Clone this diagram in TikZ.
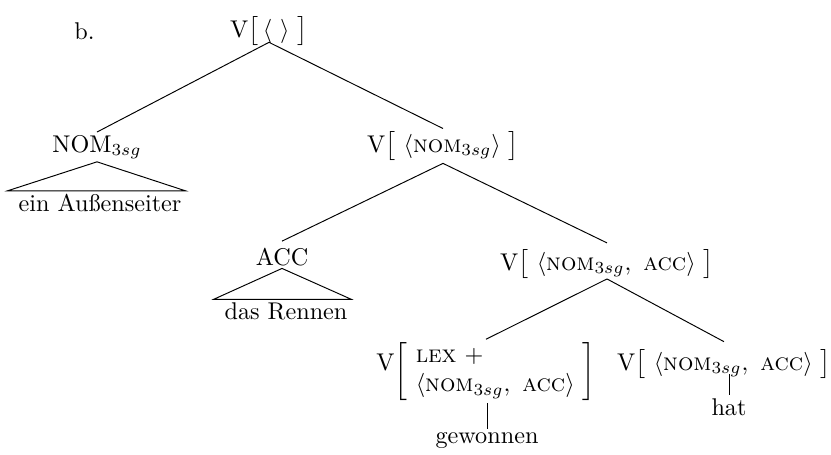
\documentclass[tikz,border=0pt]{standalone}
\usepackage{amsmath}
\newcommand{\nsg}{\textsc{nom}_{3sg}}
\newcommand{\acc}{\textsc{acc}}
\begin{document}
\begin{tikzpicture}[x=0.4132pt,y=-0.4132pt,
  tn/.style={inner sep=1pt, anchor=base},
  edge/.style={line width=0.4pt}]
\useasboundingbox (0,0) rectangle (831,455);
\node[anchor=base west, inner sep=0pt] (lbl) at (74,39) {b.};
\node[tn] (root) at (269,37) {$\mathrm{V}\big[\,\langle\ \rangle\ \big]$};
\node[tn] (nom) at (97,152) {NOM$_{3sg}$};
\node[tn] (ein) at (100,211) {ein Außenseiter};
\node[tn] (vnom) at (443,152) {$\mathrm{V}\big[\ \langle\nsg\rangle\ \big]$};
\node[tn] (acc) at (282,265) {ACC};
\node[tn] (das) at (286,319) {das Rennen};
\node[tn] (vna) at (607,270) {$\mathrm{V}\big[\ \langle\nsg,\ \acc\rangle\ \big]$};
\node[tn] (vlex) at (486,370) {$\mathrm{V}$\raisebox{-3pt}{$\left[\begin{array}{@{\ }l@{\ }}\textsc{lex}\ +\\ \langle\nsg,\ \acc\rangle\end{array}\right]$}};
\node[tn] (gew) at (487,443) {gewonnen};
\node[tn] (vhat) at (724,370) {$\mathrm{V}\big[\ \langle\nsg,\ \acc\rangle\ \big]$};
\node[tn] (hat) at (729,415) {hat};
\draw[edge] ([yshift=2.5pt]root.south) -- (nom.north);
\draw[edge] ([yshift=2.5pt]root.south) -- (vnom.north);
\draw[edge] (vnom.south) -- ([yshift=1.5pt]acc.north);
\draw[edge] (vnom.south) -- ([yshift=1.5pt]vna.north);
\draw[edge] ([yshift=1pt]vna.south) -- (vlex.north);
\draw[edge] ([yshift=1pt]vna.south) -- ([yshift=2pt]vhat.north);
\draw[edge] (vlex.south -| gew.north) -- (gew.north);
\draw[edge] ([yshift=3pt]vhat.south -| hat.north) -- (hat.north);
\draw[edge] (nom.south) -- ([xshift=-3.3pt]ein.north west) -- ([xshift=0.4pt]ein.north east) -- cycle;
\draw[edge] (acc.south) -- ([xshift=-3.3pt]das.north west) -- ([xshift=0.4pt]das.north east) -- cycle;
\end{tikzpicture}
\end{document}
